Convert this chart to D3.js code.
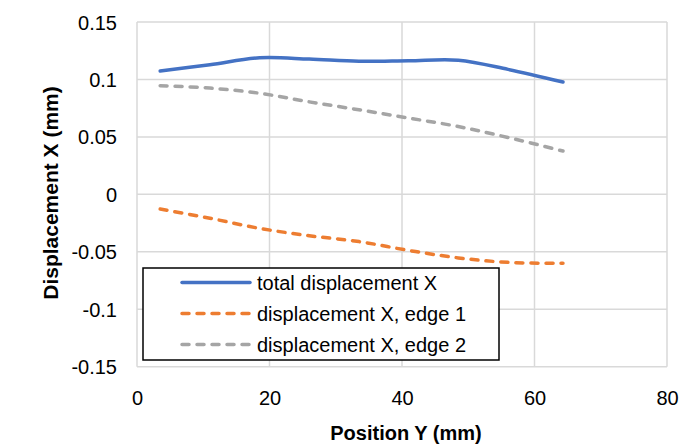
<!DOCTYPE html>
<html>
<head>
<meta charset="utf-8">
<script src="https://cdn.jsdelivr.net/npm/d3@7"></script>
<style>
  body { margin: 0; background: #fff; }
  svg text { font-family: "Liberation Sans", Arial, sans-serif; fill: #000; }
</style>
</head>
<body>
<div id="chart"></div>
<script>
// values
var positionY = [3.5, 11, 18.5, 26, 33.5, 41, 48.5, 56, 64.3];
var totalX    = [0.1074, 0.1128, 0.1188, 0.1177, 0.1158, 0.1163, 0.1168, 0.1088, 0.0978];
var edge1X    = [-0.0128, -0.0208, -0.0296, -0.0360, -0.0411, -0.0488, -0.0553, -0.0592, -0.0600];
var edge2X    = [0.0946, 0.0925, 0.0880, 0.0805, 0.0736, 0.0664, 0.0590, 0.0495, 0.0377];

var xTicks = [0, 20, 40, 60, 80];
var yTicks = [-0.15, -0.1, -0.05, 0, 0.05, 0.1, 0.15];
var yLabels = ['-0.15', '-0.1', '-0.05', '0', '0.05', '0.1', '0.15'];

var seriesNames = ['total displacement X', 'displacement X, edge 1', 'displacement X, edge 2'];
var seriesValues = [totalX, edge1X, edge2X];
var seriesColors = ['#4472C4', '#ED7D31', '#A5A5A5'];
var seriesDash = [null, '7,8', '7,8'];

var W = 700, H = 446;
var svg = d3.select('#chart').append('svg')
	.attr('width', W)
	.attr('height', H);

var x = d3.scaleLinear().domain([0, 80]).range([137, 667]);
var y = d3.scaleLinear().domain([-0.15, 0.15]).range([366.7, 22]);

// grid
var grid = svg.append('g').attr('class', 'grid');
grid.selectAll('line.h')
	.data(yTicks)
	.enter().append('line')
	.attr('x1', x(0)).attr('x2', x(80))
	.attr('y1', function(d){ return y(d); })
	.attr('y2', function(d){ return y(d); })
	.attr('stroke', '#d9d9d9')
	.attr('stroke-width', 1.5);
grid.selectAll('line.v')
	.data(xTicks)
	.enter().append('line')
	.attr('y1', y(-0.15)).attr('y2', y(0.15))
	.attr('x1', function(d){ return x(d); })
	.attr('x2', function(d){ return x(d); })
	.attr('stroke', '#d9d9d9')
	.attr('stroke-width', 1.5);

// axes (labels only, Excel style)
var xAxis = svg.append('g')
	.attr('transform', 'translate(0,' + 405 + ')')
	.call(d3.axisBottom(x).tickValues(xTicks).tickSize(0).tickPadding(0));
xAxis.select('.domain').remove();
xAxis.selectAll('text')
	.attr('dy', 0)
	.style('font-size', '20px')
	.style('font-family', '"Liberation Sans", Arial, sans-serif');

var yAxis = svg.append('g')
	.attr('transform', 'translate(117,0)')
	.call(d3.axisLeft(y).tickValues(yTicks).tickSize(0).tickPadding(0)
		.tickFormat(function(d, i){ return yLabels[i]; }));
yAxis.select('.domain').remove();
yAxis.selectAll('text')
	.attr('dy', '0.35em')
	.style('font-size', '20px')
	.style('font-family', '"Liberation Sans", Arial, sans-serif');

// lines
var line = d3.line()
	.x(function(d){ return x(d[0]); })
	.y(function(d){ return y(d[1]); })
	.curve(d3.curveCatmullRom.alpha(0.5));

seriesValues.forEach(function(vals, i){
	var pts = positionY.map(function(p, j){ return [p, vals[j]]; });
	svg.append('path')
		.datum(pts)
		.attr('d', line)
		.attr('fill', 'none')
		.attr('stroke', seriesColors[i])
		.attr('stroke-width', 3.5)
		.attr('stroke-linecap', 'round')
		.attr('stroke-dasharray', seriesDash[i]);
});

// legend
var legend = svg.append('g');
legend.append('rect')
	.attr('x', 143).attr('y', 268)
	.attr('width', 356).attr('height', 92)
	.attr('fill', '#fff')
	.attr('stroke', '#000')
	.attr('stroke-width', 1.5);
seriesNames.forEach(function(name, i){
	var ly = 282.5 + i * 31;
	legend.append('line')
		.attr('x1', 182).attr('x2', 250)
		.attr('y1', ly).attr('y2', ly)
		.attr('stroke', seriesColors[i])
		.attr('stroke-width', 3.5)
		.attr('stroke-linecap', 'round')
		.attr('stroke-dasharray', seriesDash[i]);
	legend.append('text')
		.attr('x', 257).attr('y', ly)
		.attr('dy', '0.35em')
		.style('font-size', '20px')
		.text(name);
});

// axis titles
svg.append('text')
	.attr('x', 406).attr('y', 440)
	.attr('text-anchor', 'middle')
	.style('font-size', '20px')
	.style('font-weight', 'bold')
	.text('Position Y (mm)');

svg.append('text')
	.attr('transform', 'translate(58,193) rotate(-90)')
	.attr('text-anchor', 'middle')
	.style('font-size', '21px')
	.style('font-weight', 'bold')
	.text('Displacement X (mm)');
</script>
</body>
</html>
